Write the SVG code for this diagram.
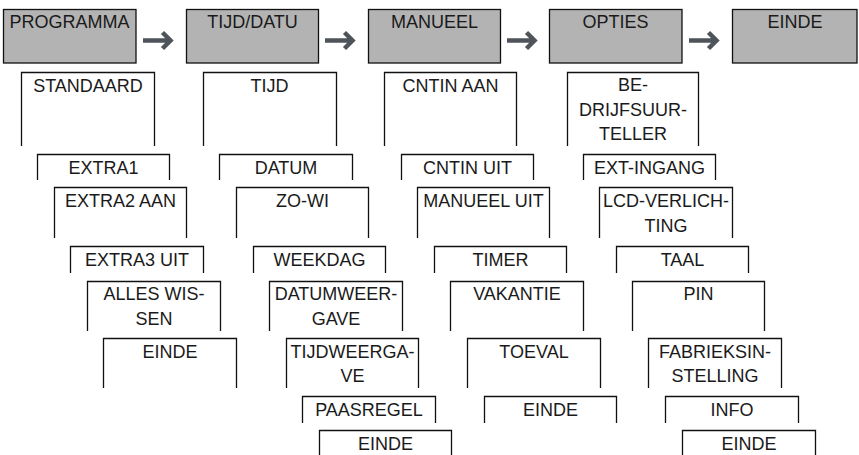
<svg xmlns="http://www.w3.org/2000/svg" width="859" height="455" viewBox="0 0 859 455">
<style>
.top{fill:#b3b3b3;stroke:#111;stroke-width:1.3}
.bx{fill:none;stroke:#111;stroke-width:1.3}
text{font-family:"Liberation Sans",Arial,Helvetica,sans-serif;font-size:18px;fill:#1a1a1a;text-anchor:middle}
.arr{fill:none;stroke:#4e5459;stroke-width:4.5;stroke-linecap:butt}
</style>
<rect width="859" height="455" fill="#fff"/>
<g id="connectors">
<path class="arr" d="M143,40.5 H170 M162.5,32.5 L170.5,40.5 L162.5,48.5"/>
<path class="arr" d="M325,40.5 H352 M344.5,32.5 L352.5,40.5 L344.5,48.5"/>
<path class="arr" d="M507,40.5 H534 M526.5,32.5 L534.5,40.5 L526.5,48.5"/>
<path class="arr" d="M689,40.5 H716 M708.5,32.5 L716.5,40.5 L708.5,48.5"/>
</g>
<g id="n-programma"><rect class="top" x="3.5" y="9.5" width="132.5" height="53.5"/><text x="69.5" y="28">PROGRAMMA</text></g>
<g id="n-tijddatu"><rect class="top" x="186.5" y="9.5" width="132" height="53.5"/><text x="252.5" y="28">TIJD/DATU</text></g>
<g id="n-manueel"><rect class="top" x="368.5" y="9.5" width="132" height="53.5"/><text x="434.5" y="28">MANUEEL</text></g>
<g id="n-opties"><rect class="top" x="549.5" y="9.5" width="132.5" height="53.5"/><text x="615.5" y="28">OPTIES</text></g>
<g id="n-einde"><rect class="top" x="732.5" y="9.5" width="124.5" height="53.5"/><text x="795" y="28">EINDE</text></g>

<g id="c1-standaard"><path class="bx" d="M21.5,146V72.5H154.5V146"/><text x="88" y="92">STANDAARD</text></g>
<g id="c1-extra1"><path class="bx" d="M37.5,180V154.5H169.5V180"/><text x="103.5" y="174">EXTRA1</text></g>
<g id="c1-extra2"><path class="bx" d="M54.5,238V187.5H186.5V238"/><text x="120.5" y="207">EXTRA2 AAN</text></g>
<g id="c1-extra3"><path class="bx" d="M70.5,273V246.5H203.5V273"/><text x="137" y="266">EXTRA3 UIT</text></g>
<g id="c1-alles"><path class="bx" d="M87.5,331V281.5H220.5V331"/><text x="154" y="300">ALLES WIS-</text><text x="154" y="324.5">SEN</text></g>
<g id="c1-einde"><path class="bx" d="M103.5,388V338.5H236.5V388"/><text x="170" y="357.5">EINDE</text></g>

<g id="c2-tijd"><path class="bx" d="M203.5,146V72.5H336.5V146"/><text x="269.5" y="92">TIJD</text></g>
<g id="c2-datum"><path class="bx" d="M219.5,180V154.5H352.5V180"/><text x="286" y="174">DATUM</text></g>
<g id="c2-zowi"><path class="bx" d="M236.5,238V187.5H368.5V238"/><text x="302.5" y="207">ZO-WI</text></g>
<g id="c2-weekdag"><path class="bx" d="M253.5,273V246.5H385.5V273"/><text x="319.5" y="266">WEEKDAG</text></g>
<g id="c2-datumweergave"><path class="bx" d="M269.5,331V281.5H402.5V331"/><text x="336" y="300">DATUMWEER-</text><text x="336" y="324.5">GAVE</text></g>
<g id="c2-tijdweergave"><path class="bx" d="M286.5,388V338.5H418.5V388"/><text x="352.5" y="357.5">TIJDWEERGA-</text><text x="352.5" y="382">VE</text></g>
<g id="c2-paasregel"><path class="bx" d="M302.5,423V396.5H435.5V423"/><text x="369" y="415.5">PAASREGEL</text></g>
<g id="c2-einde"><path class="bx" d="M319.5,455V430.5H451.5V455"/><text x="385.5" y="449.5">EINDE</text></g>

<g id="c3-cntinaan"><path class="bx" d="M384.5,146V72.5H516.5V146"/><text x="450.5" y="92">CNTIN AAN</text></g>
<g id="c3-cntinuit"><path class="bx" d="M401.5,180V154.5H533.5V180"/><text x="467.5" y="174">CNTIN UIT</text></g>
<g id="c3-manueeluit"><path class="bx" d="M417.5,238V187.5H549.5V238"/><text x="483.5" y="207">MANUEEL UIT</text></g>
<g id="c3-timer"><path class="bx" d="M434.5,273V246.5H566.5V273"/><text x="500.5" y="266">TIMER</text></g>
<g id="c3-vakantie"><path class="bx" d="M450.5,331V281.5H583.5V331"/><text x="517" y="300">VAKANTIE</text></g>
<g id="c3-toeval"><path class="bx" d="M467.5,388V338.5H600.5V388"/><text x="534" y="357.5">TOEVAL</text></g>
<g id="c3-einde"><path class="bx" d="M484.5,423V396.5H616.5V423"/><text x="550.5" y="415.5">EINDE</text></g>

<g id="c4-bedrijfsuurteller"><path class="bx" d="M567.5,146V72.5H698.5V146"/><text x="633" y="91">BE-</text><text x="633" y="115.5">DRIJFSUUR-</text><text x="633" y="140">TELLER</text></g>
<g id="c4-extingang"><path class="bx" d="M583.5,180V154.5H715.5V180"/><text x="649.5" y="174">EXT-INGANG</text></g>
<g id="c4-lcd"><path class="bx" d="M599.5,238V187.5H732.5V238"/><text x="666" y="207">LCD-VERLICH-</text><text x="666" y="231.5">TING</text></g>
<g id="c4-taal"><path class="bx" d="M616.5,273V246.5H748.5V273"/><text x="682.5" y="266">TAAL</text></g>
<g id="c4-pin"><path class="bx" d="M632.5,331V281.5H764.5V331"/><text x="698.5" y="300">PIN</text></g>
<g id="c4-fabrieksinstelling"><path class="bx" d="M648.5,388V338.5H781.5V388"/><text x="715" y="357.5">FABRIEKSIN-</text><text x="715" y="382">STELLING</text></g>
<g id="c4-info"><path class="bx" d="M665.5,423V396.5H798.5V423"/><text x="732" y="415.5">INFO</text></g>
<g id="c4-einde"><path class="bx" d="M682.5,455V430.5H815.5V455"/><text x="749" y="449.5">EINDE</text></g>
</svg>
